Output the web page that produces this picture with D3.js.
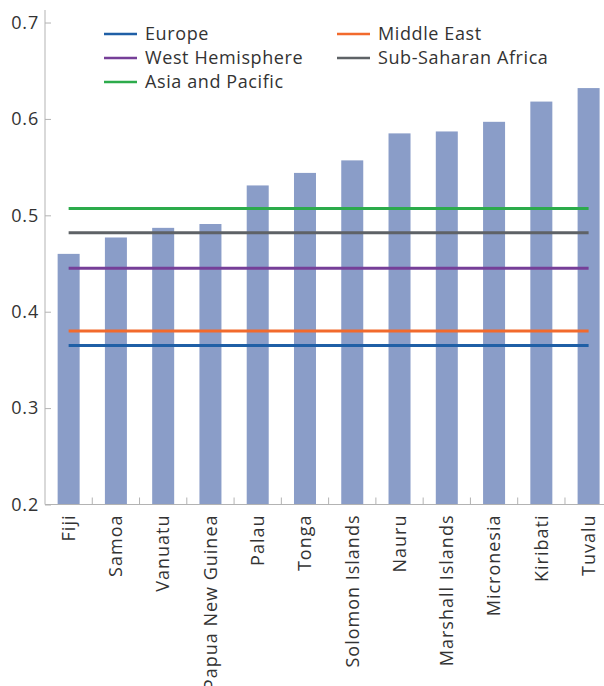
<!DOCTYPE html>
<html>
<head>
<meta charset="utf-8">
<script src="https://cdn.jsdelivr.net/npm/d3@7"></script>
<style>
  body { margin: 0; background: #fff; }
  svg { display: block; font-family: "Open Sans", sans-serif; }
  .axis path, .axis line { stroke: #b3b3b3; }
  .axis text { fill: #333; font-size: 18px; }
</style>
</head>
<body>
<div class="container"></div>
<script>
const countries = ['Fiji', 'Samoa', 'Vanuatu', 'Papua New Guinea', 'Palau', 'Tonga',
  'Solomon Islands', 'Nauru', 'Marshall Islands', 'Micronesia', 'Kiribati', 'Tuvalu'];
const values = [0.460, 0.477, 0.487, 0.491, 0.531, 0.544, 0.557, 0.585, 0.587, 0.597, 0.618, 0.632];

const regions = ['Europe', 'Middle East', 'West Hemisphere', 'Sub-Saharan Africa', 'Asia and Pacific'];
const regionValues = [0.365, 0.380, 0.445, 0.482, 0.507];
const regionColors = ['#1f5fa6', '#f26a2c', '#763f98', '#5e6266', '#2cab4b'];

const yTicks = [0.2, 0.3, 0.4, 0.5, 0.6, 0.7];

(function(){
  const config = {w: 604, h: 686, left: 45, step: 47.27, bar: 22, top: 10, bottom: 504.5};

  const svg = d3.select('.container').append('svg')
    .attr('width', config.w)
    .attr('height', config.h);

  const x = d3.scaleBand()
    .domain(countries)
    .range([config.left, config.left + config.step * countries.length])
    .paddingInner(0)
    .paddingOuter(0);

  const y = d3.scaleLinear()
    .domain([0.2, 0.713])
    .range([config.bottom, config.top]);

  // bars
  svg.append('g')
    .selectAll('rect')
    .data(countries)
    .enter().append('rect')
      .attr('x', (d, i) => x(d) + (x.bandwidth() - config.bar) / 2)
      .attr('width', config.bar)
      .attr('y', (d, i) => y(values[i]))
      .attr('height', (d, i) => y(0.2) - y(values[i]))
      .attr('fill', '#8a9dc8');

  // regional average lines
  const x0 = x(countries[0]) + x.bandwidth() / 2;
  const x1 = x(countries[countries.length - 1]) + x.bandwidth() / 2;
  svg.append('g')
    .selectAll('line')
    .data(regions)
    .enter().append('line')
      .attr('x1', x0)
      .attr('x2', x1)
      .attr('y1', (d, i) => y(regionValues[i]))
      .attr('y2', (d, i) => y(regionValues[i]))
      .attr('stroke', (d, i) => regionColors[i])
      .attr('stroke-width', 3);

  // y axis
  const yAxis = svg.append('g')
    .attr('class', 'axis')
    .attr('transform', `translate(${config.left},0)`)
    .call(d3.axisLeft(y).tickValues(yTicks).tickFormat(d3.format('.1f')).tickSize(-6).tickPadding(6))
    .attr('font-family', null)
    .attr('font-size', null);
  yAxis.select('.domain').attr('d', `M0,${config.top}V${config.bottom}`);
  yAxis.selectAll('text').attr('x', -6).attr('letter-spacing', 0.8);

  // x axis
  const xAxis = svg.append('g')
    .attr('class', 'axis')
    .attr('transform', `translate(0,${config.bottom})`);
  xAxis.append('path')
    .attr('d', `M${config.left},0H${config.w}`)
    .attr('fill', 'none');
  xAxis.selectAll('line')
    .data(countries.slice(1))
    .enter().append('line')
      .attr('x1', d => x(d))
      .attr('x2', d => x(d))
      .attr('y1', 0)
      .attr('y2', -7);
  xAxis.selectAll('text')
    .data(countries)
    .enter().append('text')
      .attr('transform', d => `translate(${x(d) + x.bandwidth() / 2},10) rotate(-90)`)
      .attr('text-anchor', 'end')
      .attr('dy', '0.35em')
      .attr('letter-spacing', 1)
      .text(d => d);

  // legend
  const legendPos = [[104, 34], [337, 34], [104, 58], [337, 58], [104, 82]];
  const legend = svg.append('g')
    .selectAll('g')
    .data(regions)
    .enter().append('g')
      .attr('transform', (d, i) => `translate(${legendPos[i][0]},${legendPos[i][1]})`);
  legend.append('line')
    .attr('x1', 0)
    .attr('x2', 33)
    .attr('stroke', (d, i) => regionColors[i])
    .attr('stroke-width', 2.5);
  legend.append('text')
    .attr('x', 41)
    .attr('dy', '0.35em')
    .attr('fill', '#333')
    .attr('font-size', 18)
    .attr('letter-spacing', 0.6)
    .text(d => d);
})();
</script>
</body>
</html>
